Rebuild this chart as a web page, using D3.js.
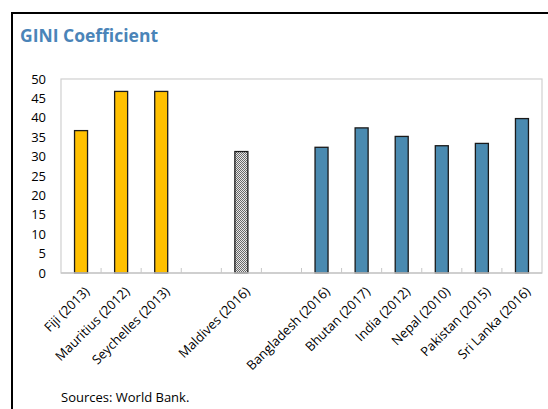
<!DOCTYPE html>
<html>
<head>
<meta charset="utf-8">
<style>
  body { margin: 0; background: #fff; }
  svg { display: block; font-family: "Open Sans", "Noto Sans", sans-serif; }
</style>
</head>
<body>
<svg width="548" height="409"></svg>
<script src="https://cdnjs.cloudflare.com/ajax/libs/d3/7.8.5/d3.min.js"></script>
<script>
  // categories ("" = empty gap slot), values and groups
  var countries = ["Fiji (2013)", "Mauritius (2012)", "Seychelles (2013)", "", "Maldives (2016)", " ",
                   "Bangladesh (2016)", "Bhutan (2017)", "India (2012)", "Nepal (2010)", "Pakistan (2015)", "Sri Lanka (2016)"];
  var gini = [36.7, 46.8, 46.8, null, 31.3, null, 32.4, 37.4, 35.2, 32.8, 33.4, 39.8];
  var group = ["island", "island", "island", null, "maldives", null, "south", "south", "south", "south", "south", "south"];
  var yTicks = [0, 5, 10, 15, 20, 25, 30, 35, 40, 45, 50];

  var svg = d3.select("svg");
  var plotL = 61, plotR = 542, plotT = 79, plotB = 273;

  var defs = svg.append("defs");
  var pat = defs.append("pattern")
      .attr("id", "hatch")
      .attr("width", 2).attr("height", 2)
      .attr("patternUnits", "userSpaceOnUse");
  pat.append("rect").attr("width", 2).attr("height", 2).attr("fill", "#e8e8e8");
  pat.append("rect").attr("width", 1).attr("height", 1).attr("fill", "#6a6a6a");
  pat.append("rect").attr("x", 1).attr("y", 1).attr("width", 1).attr("height", 1).attr("fill", "#6a6a6a");

  var fills = { island: "#ffc000", maldives: "url(#hatch)", south: "#4a8ab0" };

  // outer frame
  svg.append("path")
      .attr("d", "M12,409 V13 H548")
      .attr("fill", "none")
      .attr("stroke", "#000")
      .attr("stroke-width", 2);

  svg.append("text")
      .attr("x", 20).attr("y", 42)
      .attr("font-size", 17.5)
      .attr("font-weight", "bold")
      .attr("fill", "#4a84b8")
      .text("GINI Coefficient");

  var x = d3.scaleBand().domain(countries).range([plotL, plotR]).padding(0);
  var y = d3.scaleLinear().domain([0, 50]).range([plotB, plotT]);

  // plot area border
  svg.append("rect")
      .attr("x", plotL).attr("y", plotT)
      .attr("width", plotR - plotL).attr("height", plotB - plotT)
      .attr("fill", "none")
      .attr("stroke", "#d0d0d0")
      .attr("stroke-width", 1.2);

  // y axis labels
  svg.append("g")
      .selectAll("text")
      .data(yTicks)
      .enter().append("text")
        .attr("x", 46)
        .attr("y", function(d) { return y(d); })
        .attr("dy", "0.35em")
        .attr("text-anchor", "end")
        .attr("font-size", 13)
        .attr("fill", "#000")
        .text(function(d) { return d; });

  // bars
  var barW = 13;
  svg.append("g")
      .selectAll("rect")
      .data(countries.map(function(c, i) { return { c: c, v: gini[i], g: group[i] }; })
                     .filter(function(d) { return d.v != null; }))
      .enter().append("rect")
        .attr("x", function(d) { return x(d.c) + x.bandwidth() / 2 - barW / 2; })
        .attr("y", function(d) { return y(d.v); })
        .attr("width", barW)
        .attr("height", function(d) { return y(0) - y(d.v); })
        .attr("fill", function(d) { return fills[d.g]; })
        .attr("stroke", "#1a1a1a")
        .attr("stroke-width", 1.3);

  // x axis with inward ticks at slot boundaries
  svg.append("line")
      .attr("x1", plotL).attr("x2", plotR)
      .attr("y1", plotB).attr("y2", plotB)
      .attr("stroke", "#c8c8c8").attr("stroke-width", 1.5);
  svg.append("g")
      .selectAll("line")
      .data(countries.slice(1))
      .enter().append("line")
        .attr("x1", function(d) { return x(d); })
        .attr("x2", function(d) { return x(d); })
        .attr("y1", plotB).attr("y2", plotB - 5)
        .attr("stroke", "#c8c8c8");

  // rotated category labels
  svg.append("g")
      .selectAll("text")
      .data(countries.filter(function(c) { return c.trim() !== ""; }))
      .enter().append("text")
        .attr("transform", function(d) {
          return "translate(" + (x(d) + x.bandwidth() / 2 + 6) + "," + (plotB + 16) + ") rotate(-45)";
        })
        .attr("text-anchor", "end")
        .attr("dy", "0.35em")
        .attr("font-size", 13)
        .attr("fill", "#000")
        .text(function(d) { return d; });

  svg.append("text")
      .attr("x", 61).attr("y", 402)
      .attr("font-size", 13)
      .attr("fill", "#000")
      .text("Sources: World Bank.");
</script>
</body>
</html>
